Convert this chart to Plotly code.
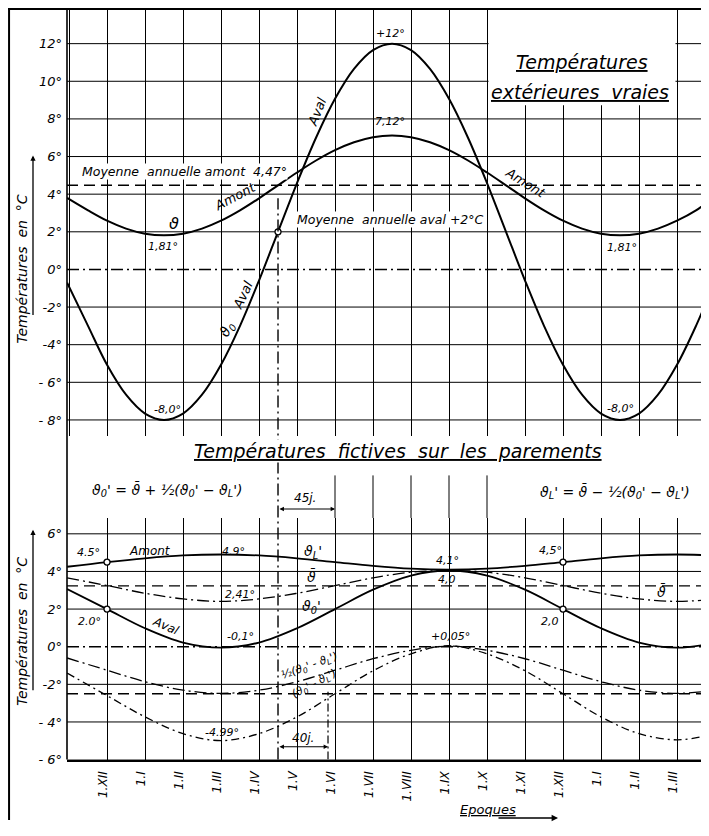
import plotly.graph_objects as go

PAGE_W, PAGE_H = 709, 836
OFF = 8                      # default page margin of the html body
W, H = PAGE_W - OFF, PAGE_H - 2 * OFF
FONT = "DejaVu Sans"

# ---------------- data (x in months, 0 = 1.XII) ----------------
month_ticks = list(range(16))
month_labels = ["1.XII", "1.I", "1.II", "1.III", "1.IV", "1.V", "1.VI", "1.VII",
                "1.VIII", "1.IX", "1.X", "1.XI", "1.XII", "1.I", "1.II", "1.III"]
last_label, last_pos = "1.IV", 16

# upper chart: true exterior temperatures
top_m = [-1.05, -0.5, 0, 0.5, 1, 1.5, 2, 2.5, 3, 3.5, 4, 4.5, 5, 5.5, 6, 6.5, 7, 7.5,
         8, 8.5, 9, 9.5, 10, 10.5, 11, 11.5, 12, 12.5, 13, 13.5, 14, 14.5, 15, 15.5, 15.85]
amont = [3.80, 3.14, 2.59, 2.17, 1.90, 1.81, 1.90, 2.17, 2.59, 3.14, 3.78, 4.47, 5.15, 5.79,
         6.34, 6.76, 7.03, 7.12, 7.03, 6.76, 6.34, 5.79, 5.15, 4.47, 3.78, 3.14, 2.59, 2.17,
         1.90, 1.81, 1.90, 2.17, 2.59, 3.14, 3.65]
aval = [-0.70, -3.00, -5.07, -6.66, -7.66, -8.00, -7.66, -6.66, -5.07, -3.00, -0.59, 2.00,
        4.59, 7.00, 9.07, 10.66, 11.66, 12.00, 11.66, 10.66, 9.07, 7.00, 4.59, 2.00, -0.59,
        -3.00, -5.07, -6.66, -7.66, -8.00, -7.66, -6.66, -5.07, -3.00, -1.34]
amont_mean = 4.47
aval_mean = 2.0
aval_mean_date = 4.5          # month where aval crosses its mean
top_pts_x = [4.5]
top_pts_y = [2.0]

# lower chart: fictitious facing temperatures
bot_m = [-1.05, 0, 1, 2, 3, 4, 5, 6, 7, 8, 9, 10, 11, 12, 13, 14, 15, 15.85]
amont_f = [4.25, 4.50, 4.70, 4.85, 4.90, 4.85, 4.70, 4.50, 4.30, 4.15, 4.10, 4.15, 4.30,
           4.50, 4.70, 4.85, 4.90, 4.86]
aval_f = [3.07, 2.00, 0.98, 0.22, -0.05, 0.22, 0.98, 2.00, 3.03, 3.78, 4.05, 3.78, 3.03,
          2.00, 0.98, 0.22, -0.05, 0.15]
mean_f = [3.66, 3.25, 2.84, 2.54, 2.41, 2.54, 2.84, 3.25, 3.66, 3.96, 4.05, 3.96, 3.66,
          3.25, 2.84, 2.54, 2.41, 2.50]
half_diff = [-0.60, -1.25, -1.86, -2.31, -2.48, -2.31, -1.86, -1.25, -0.64, -0.19, 0.03,
             -0.19, -0.64, -1.25, -1.86, -2.31, -2.48, -2.35]
diff = [-1.40, -2.60, -3.73, -4.62, -4.99, -4.62, -3.73, -2.50, -1.28, -0.38, 0.05, -0.38,
        -1.28, -2.50, -3.73, -4.62, -4.95, -4.70]
mean_bar = 3.235
diff_mean = -2.5
bot_pts_x = [0, 0, 12, 12]
bot_pts_y = [4.5, 2.0, 4.5, 2.0]
lag_45 = 45   # days
lag_40 = 40   # days

top_yticks = [-8, -6, -4, -2, 0, 2, 4, 6, 8, 10, 12]
top_ytext = ["- 8°", "- 6°", "-4°", "-2°", "0°", "2°", "4°", "6°", "8°", "10°", "12°"]
bot_yticks = [-6, -4, -2, 0, 2, 4, 6]
bot_ytext = ["- 6°", "- 4°", "-2°", "0°", "2°", "4°", "6°"]

# ---------------- geometry (page pixels -> paper) ----------------
def px(p):
    return (p - OFF) / W

def py(p):
    return 1 - (p - OFF) / H

X0PX = 67
XMIN, XMAX = -1.053, 15.842
PPM = (PAGE_W - X0PX) / (XMAX - XMIN)       # pixels per month
TOP_DOM = [py(440), 1.0]
TOP_RANGE = [(272 - 440) / 19, (272 - OFF) / 19]
BOT_DOM = [py(767), py(523)]
BOT_RANGE = [-6, (653 - 523) / 19]
DASHDOT = "12px,4px,2px,4px"

fig = go.Figure()

def line(x, y, xa, ya, width=2.0, dash="solid"):
    fig.add_trace(go.Scatter(x=x, y=y, mode="lines", xaxis=xa, yaxis=ya,
                             line=dict(color="black", width=width, dash=dash, shape="spline"),
                             showlegend=False, hoverinfo="skip"))

# horizontal grid lines, drawn first (under the curves)
def hgrid(vals, xa, ya):
    for t in vals:
        fig.add_trace(go.Scatter(x=[XMIN, XMAX], y=[t, t], mode="lines", xaxis=xa, yaxis=ya,
                                 line=dict(color="black", width=1.5 if t == 0 else 1.0,
                                           dash=DASHDOT if t == 0 else "solid"),
                                 showlegend=False, hoverinfo="skip"))

hgrid(top_yticks, "x", "y")
hgrid(bot_yticks, "x2", "y2")

# white area behind the upper title (covers grid only)
fig.add_trace(go.Scatter(x=[10.04, 14.96, 14.96, 10.04, 10.04], y=[8.72, 8.72, 13.9, 13.9, 8.72],
                         mode="lines", fill="toself", fillcolor="white", line=dict(width=0),
                         xaxis="x", yaxis="y", showlegend=False, hoverinfo="skip"))

# upper curves
line(top_m, amont, "x", "y", 2.0)
line(top_m, aval, "x", "y", 2.0)
line([XMIN, XMAX], [amont_mean, amont_mean], "x", "y", 1.4, "11px,6px")
fig.add_trace(go.Scatter(x=top_pts_x, y=top_pts_y, mode="markers", xaxis="x", yaxis="y",
                         marker=dict(size=6, color="white", line=dict(color="black", width=1.3)),
                         showlegend=False, hoverinfo="skip"))

# lower curves
line(bot_m, amont_f, "x2", "y2", 1.8)
line(bot_m, aval_f, "x2", "y2", 1.8)
line(bot_m, mean_f, "x2", "y2", 1.3, DASHDOT)
line(bot_m, half_diff, "x2", "y2", 1.3, DASHDOT)
line(bot_m, diff, "x2", "y2", 1.3, "8px,4px,2px,4px")
line([XMIN, XMAX], [mean_bar, mean_bar], "x2", "y2", 1.3, "11px,6px")
line([XMIN, XMAX], [diff_mean, diff_mean], "x2", "y2", 1.3, "11px,6px")
fig.add_trace(go.Scatter(x=bot_pts_x, y=bot_pts_y, mode="markers", xaxis="x2", yaxis="y2",
                         marker=dict(size=6, color="white", line=dict(color="black", width=1.3)),
                         showlegend=False, hoverinfo="skip"))

# ---------------- shapes ----------------
shapes = []
for m in [6, 7, 8, 9, 10]:
    shapes.append(dict(type="line", xref="x", yref="paper", x0=m, x1=m, y0=py(523), y1=py(480),
                       line=dict(color="black", width=1)))
shapes.append(dict(type="line", xref="paper", yref="paper", x0=px(X0PX), x1=px(X0PX),
                   y0=py(767), y1=1, line=dict(color="black", width=1.6)))
# outer frame (left and top edges)
shapes.append(dict(type="line", xref="paper", yref="paper", x0=0.0015, x1=0.0015, y0=0, y1=1,
                   line=dict(color="black", width=2)))
shapes.append(dict(type="line", xref="paper", yref="paper", x0=0, x1=1, y0=0.9988, y1=0.9988,
                   line=dict(color="black", width=2)))
# date of aval mean (dash-dot vertical through both charts)
shapes.append(dict(type="line", xref="x", yref="paper", x0=aval_mean_date, x1=aval_mean_date,
                   y0=py(767), y1=py(200), line=dict(color="black", width=1.4, dash=DASHDOT)))
x40 = aval_mean_date + lag_40 / 30.4
shapes.append(dict(type="line", xref="x2", yref="y2", x0=x40, x1=x40, y0=-6, y1=-2.4,
                   line=dict(color="black", width=1.2, dash="8px,3px,2px,3px")))

# ---------------- annotations ----------------
anns = []
def ann(text, x, y, xref="x", yref="y", size=12, angle=0, bg=None, xanchor="center"):
    d = dict(text=text, x=x, y=y, xref=xref, yref=yref, showarrow=False, textangle=angle,
             xanchor=xanchor, yanchor="middle",
             font=dict(family=FONT, size=size, color="black", style="italic"))
    if bg:
        d["bgcolor"] = bg
        d["borderpad"] = 0
    anns.append(d)

# upper chart
ann("+12°", 7.45, 12.55, size=11)
ann("7,12°", 7.45, 7.84, size=11)
ann("Aval", 5.53, 8.4, size=13, angle=-68)
ann("<u>Températures</u>", 12.5, 11.0, size=19)
ann("<u>extérieures  vraies</u>", 12.45, 9.42, size=19)
ann("Moyenne  annuelle amont  4,47°", 2.03, 5.21, size=12.5, bg="white")
ann("Amont", 3.37, 3.85, size=13, angle=-28)
ann("ϑ", 1.76, 2.45, size=16)
ann("1,81°", 1.47, 1.22, size=11)
ann("Moyenne  annuelle aval +2°C", 7.47, 2.63, size=12.5, bg="white")
ann("Amont", 11.0, 4.6, size=13, angle=32)
ann("1,81°", 13.55, 1.16, size=11)
ann("-8,0°", 1.58, -7.42, size=11)
ann("-8,0°", 13.5, -7.37, size=11)
ann("Aval", 3.57, -1.37, size=13, angle=-65)
ann("ϑ<sub>0</sub>", 3.16, -3.21, size=14, angle=-60)

# middle band
ann("<u>Températures  fictives  sur  les  parements</u>", px(398), py(455), "paper", "paper",
    size=19, bg="white")
ann("ϑ<sub>0</sub>' = ϑ̄ + ½(ϑ<sub>0</sub>' − ϑ<sub>L</sub>')", px(167), py(495), "paper", "paper",
    size=14, bg="white")
ann("ϑ<sub>L</sub>' = ϑ̄ − ½(ϑ<sub>0</sub>' − ϑ<sub>L</sub>')", px(615), py(497), "paper", "paper",
    size=14, bg="white")
ann("45j.", px(305), py(503), "paper", "paper", size=12)
anns.append(dict(text="", xref="x2", yref="paper", x=aval_mean_date + lag_45 / 30,
                 y=py(514), ax=-(lag_45 / 30) * PPM, ay=0, showarrow=True, arrowhead=2,
                 arrowside="end+start", arrowsize=0.8, arrowwidth=1.1, arrowcolor="black"))

# lower chart
ann("4.5°", -0.5, 5.0, "x2", "y2", 11)
ann("Amont", 1.13, 5.1, "x2", "y2", 12)
ann("4.9°", 3.32, 5.05, "x2", "y2", 11)
ann("ϑ<sub>L</sub>'", 5.42, 5.05, "x2", "y2", 14)
ann("ϑ̄", 5.39, 3.74, "x2", "y2", 14)
ann("2,41°", 3.5, 2.79, "x2", "y2", 11)
ann("ϑ<sub>0</sub>'", 5.39, 2.1, "x2", "y2", 14)
ann("2.0°", -0.45, 1.32, "x2", "y2", 11)
ann("Aval", 1.55, 1.1, "x2", "y2", 12, angle=24)
ann("-0,1°", 3.5, 0.53, "x2", "y2", 11)
ann("4,1°", 8.97, 4.6, "x2", "y2", 11)
ann("4,0", 8.95, 3.58, "x2", "y2", 11)
ann("4,5°", 11.66, 5.1, "x2", "y2", 11)
ann("ϑ̄", 14.6, 2.95, "x2", "y2", 14)
ann("2,0", 11.66, 1.32, "x2", "y2", 11)
ann("+0,05°", 9.03, 0.55, "x2", "y2", 11)
ann("½(ϑ<sub>0</sub>' - ϑ<sub>L</sub>')", 5.34, -1.05, "x2", "y2", 11, angle=-20)
ann("(ϑ<sub>0</sub>' - ϑ<sub>L</sub>')", 5.45, -1.98, "x2", "y2", 11, angle=-28)
ann("-4.99°", 3.03, -4.58, "x2", "y2", 11)
ann("40j.", 5.16, -4.84, "x2", "y2", 12)
anns.append(dict(text="", xref="x2", yref="y2", x=x40, y=-5.32, ax=-(lag_40 / 30.4) * PPM, ay=0,
                 showarrow=True, arrowhead=2, arrowside="end+start", arrowsize=0.8,
                 arrowwidth=1.1, arrowcolor="black"))

# axis titles with arrows
ann("Températures  en  °C", px(22), py(272), "paper", "paper", 14, angle=-90)
ann("Températures  en  °C", px(22), py(638), "paper", "paper", 14, angle=-90)
for head, tail in [(157, 318), (535, 697)]:
    anns.append(dict(text="", xref="paper", yref="paper", x=px(33), y=py(head), ax=0,
                     ay=tail - head, showarrow=True, arrowhead=2, arrowsize=0.8,
                     arrowwidth=1.3, arrowcolor="black"))
ann("<u>Epoques</u>", px(488), py(817), "paper", "paper", 13)
anns.append(dict(text="", xref="paper", yref="paper", x=px(558), y=py(826), ax=-61, ay=0,
                 showarrow=True, arrowhead=2, arrowsize=0.8, arrowwidth=1.6, arrowcolor="black"))
# last month label at the clipped edge
anns.append(dict(text=last_label, xref="x2", yref="paper", x=last_pos, y=py(773), xshift=-4,
                 showarrow=False, textangle=-90, xanchor="center", yanchor="top",
                 font=dict(family=FONT, size=12, color="black", style="italic")))

# ---------------- layout ----------------
axis_font = dict(family=FONT, size=13, color="black", style="italic")
fig.update_layout(
    width=W, height=H, autosize=False,
    margin=dict(l=0, r=0, t=0, b=0),
    paper_bgcolor="white", plot_bgcolor="white",
    showlegend=False,
    xaxis=dict(domain=[px(X0PX), 1], range=[XMIN, XMAX], anchor="y",
               tickmode="linear", tick0=0, dtick=1, showgrid=True, gridcolor="black",
               gridwidth=1, showticklabels=False, ticks="", zeroline=False, showline=False),
    yaxis=dict(domain=TOP_DOM, range=TOP_RANGE, anchor="x", tickvals=top_yticks,
               ticktext=top_ytext, showgrid=False, zeroline=False, showline=False,
               ticks="", tickfont=axis_font, ticklabelstandoff=4),
    xaxis2=dict(domain=[px(X0PX), 1], range=[XMIN, XMAX], anchor="y2",
                tickvals=month_ticks, ticktext=month_labels, tickangle=-90,
                showgrid=True, gridcolor="black", gridwidth=1, ticks="",
                zeroline=False, showline=True, linecolor="black", linewidth=1.8,
                tickfont=dict(family=FONT, size=12, color="black", style="italic"),
                ticklabelstandoff=5, ticklabelshift=-4),
    yaxis2=dict(domain=BOT_DOM, range=BOT_RANGE, anchor="x2", tickvals=bot_yticks,
                ticktext=bot_ytext, showgrid=False, zeroline=False, showline=False,
                ticks="", tickfont=axis_font, ticklabelstandoff=4),
    shapes=shapes,
    annotations=anns,
)

fig.write_html("out.html")
